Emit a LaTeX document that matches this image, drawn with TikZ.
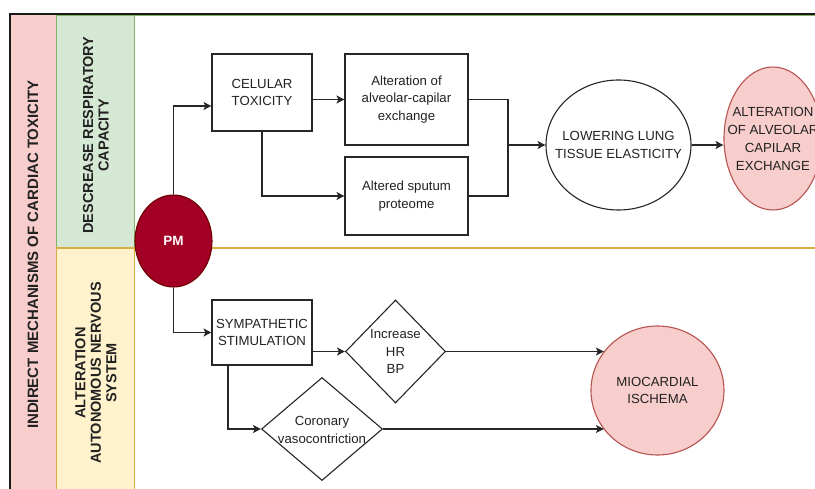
\documentclass[tikz,border=0pt]{standalone}
\usepackage{fontspec}
\setmainfont{Liberation Sans}
\usetikzlibrary{shapes.geometric,arrows.meta,calc}
\definecolor{txt}{HTML}{222222}
\definecolor{pinkfill}{HTML}{F8CECC}
\definecolor{pinkline}{HTML}{B85450}
\definecolor{greenfill}{HTML}{D5E8D4}
\definecolor{greenline}{HTML}{82B366}
\definecolor{yelfill}{HTML}{FFF2CC}
\definecolor{yelline}{HTML}{D6AE45}
\definecolor{pmfill}{HTML}{A20025}
\definecolor{pmline}{HTML}{6F0000}
\tikzset{
  lbl/.style={font=\fontsize{13.2}{17.5}\selectfont, text=txt, align=center},
  stepbox/.style={lbl, draw=black!85, line width=1.1pt, rectangle, inner sep=0pt},
  oval/.style={ellipse, line width=1.1pt, inner sep=0pt},
  rhomb/.style={diamond, draw=black!85, line width=1.1pt, inner sep=0pt},
  conn/.style={draw=black!85, line width=1.1pt},
  arr/.style={conn, -{Stealth[length=8pt,width=8pt,inset=2pt]}},
  lanelbl/.style={font=\fontsize{14.5}{15.5}\selectfont\bfseries, text=txt, align=center, rotate=90},
}
\begin{document}
\begin{tikzpicture}[x=1pt,y=-1pt]
\useasboundingbox (0,0) rectangle (815,489);
\clip (0,0) rectangle (815,489);
% pool and lanes
\fill[white] (0,0) rectangle (815,489);
\fill[pinkfill] (10,14) rectangle (56,495);
\draw[greenline, line width=1pt] (56,15.8) rectangle (830,248);
\fill[greenfill] (56,15.8) rectangle (134,248);
\draw[greenline, line width=1pt] (56,15.8) rectangle (134,248);
\fill[yelfill] (56,248) rectangle (134,500);
\draw[yelline, line width=1pt] (56,248) rectangle (134,500);
\draw[yelline, line width=1.2pt] (56,248) -- (830,248);
\draw[black!90, line width=1.3pt] (10,495) -- (10,14) -- (830,14);
% lane labels
\node[lanelbl, font=\fontsize{15}{17}\selectfont\bfseries] (title) at (33,254.5) {INDIRECT MECHANISMS OF CARDIAC TOXICITY};
\node[lanelbl] (resp) at (96,135) {DESCREASE RESPIRATORY\\CAPACITY};
\node[lanelbl] (auto) at (96,373) {ALTERATION\\AUTONOMOUS NERVOUS\\SYSTEM};
% nodes
\node[oval, fill=pmfill, draw=pmline, minimum width=77pt, minimum height=92pt,
      text=white!92!pink, font=\fontsize{13.5}{15}\selectfont\bfseries] (pm) at (173.5,241) {PM};
\node[stepbox, minimum width=100pt, minimum height=77pt] (cel) at (262,92.5) {CELULAR\\TOXICITY};
\node[stepbox, minimum width=123pt, minimum height=91pt] (alt) at (406.5,99.5) {Alteration of\\alveolar-capilar\\exchange};
\node[stepbox, minimum width=123pt, minimum height=78pt] (spu) at (406.5,196) {Altered sputum\\proteome};
\node[oval, draw=black!85, minimum width=145pt, minimum height=130pt,
      label={[lbl]center:LOWERING LUNG\\TISSUE ELASTICITY}] (low) at (618.5,145) {};
\node[oval, draw=pinkline, fill=pinkfill, minimum width=98pt, minimum height=143pt,
      label={[lbl, font=\fontsize{13.2}{18}\selectfont]center:ALTERATION\\OF ALVEOLAR\\CAPILAR\\EXCHANGE}] (alv) at (773,138.5) {};
\node[stepbox, minimum width=100pt, minimum height=65pt] (sym) at (262,332.5) {SYMPATHETIC\\STIMULATION};
\node[rhomb, minimum width=100pt, minimum height=103pt,
      label={[lbl]center:Increase\\HR\\BP}] (inc) at (395.5,351.5) {};
\node[rhomb, minimum width=121pt, minimum height=103pt,
      label={[lbl, yshift=-1pt]center:Coronary\\vasocontriction}] (cor) at (322,429) {};
\node[oval, draw=pinkline, fill=pinkfill, minimum width=133pt, minimum height=129pt,
      label={[lbl]center:MIOCARDIAL\\ISCHEMA}] (mio) at (657.5,390.5) {};
% connectors
\coordinate (mrg) at (508,145);
\draw[arr] (pm.north) |- ([yshift=-13.5pt]cel.west);
\draw[arr] (cel.east |- alt.west) -- (alt.west);
\draw[arr] (cel.south) |- (spu.west);
\draw[conn] (alt.east) -| (mrg);
\draw[conn] (spu.east) -| (mrg);
\draw[arr] (mrg) -- (low.west);
\draw[arr] (low.east) -- (low.east -| alv.west);
\draw[arr] (pm.south) |- (sym.west);
\draw[arr] (sym.east |- inc.west) -- (inc.west);
\draw[arr] ([xshift=-34pt]sym.south) |- (cor.west);
\draw[arr] (inc.east) -- (inc.east -| mio.144);
\draw[arr] (cor.east) -- (cor.east -| mio.216);
\end{tikzpicture}
\end{document}
